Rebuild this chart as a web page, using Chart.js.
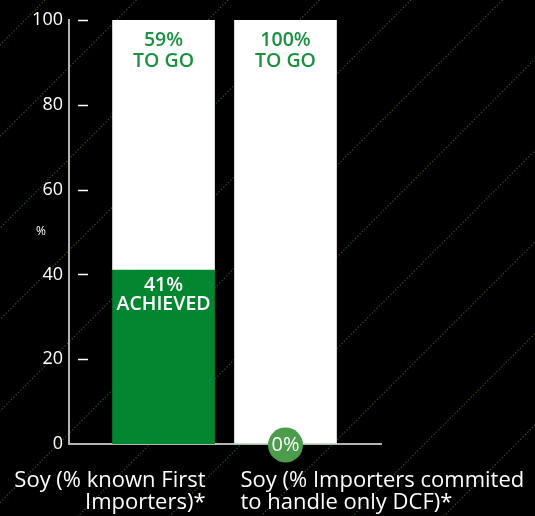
<!DOCTYPE html>
<html>
<head>
<meta charset="utf-8">
<script src="https://cdn.jsdelivr.net/npm/chart.js@4.4.1/dist/chart.umd.min.js"></script>
<style>
  html, body { margin: 0; padding: 0; background: #000; }
  #wrap { width: 535px; height: 516px; position: relative; }
</style>
</head>
<body>
<div id="wrap"><canvas id="c" width="535" height="516"></canvas></div>
<script>
// Soy commitments: share achieved vs. remaining, in percent
const categories = [
  ['Soy (% known First', 'Importers)*'],
  ['Soy (% Importers commited', 'to handle only DCF)*']
];
const achieved = [41, 0];
const toGo = [59, 100];
const yTicks = [0, 20, 40, 60, 80, 100];

const GREEN = '#02862f';
const TEXT_GREEN = '#1b9140';
const FONT = '"Open Sans", "Noto Sans", sans-serif';

// Black backdrop with faint dotted diagonals
const backdrop = {
  id: 'backdrop',
  beforeDraw(chart) {
    const ctx = chart.ctx;
    const w = chart.width, h = chart.height;
    ctx.save();
    ctx.fillStyle = '#000';
    ctx.fillRect(0, 0, w, h);
    ctx.strokeStyle = 'rgba(85,140,40,0.6)';
    ctx.lineWidth = 1.2;
    ctx.setLineDash([1.3, 2]);
    for (let c = 45; c < w + h + 100; c += 91.5) {
      ctx.beginPath();
      ctx.moveTo(c, 0);
      ctx.lineTo(c - h - 10, h + 10);
      ctx.stroke();
    }
    ctx.restore();
  }
};

// Detached tick marks, axis unit, segment captions, zero badge and category labels
const decorations = {
  id: 'decorations',
  afterDatasetsDraw(chart) {
    const ctx = chart.ctx;
    const x = chart.scales.x, y = chart.scales.y;
    ctx.save();

    // tick marks just right of the value axis
    ctx.strokeStyle = '#ffffff';
    ctx.lineWidth = 1.5;
    yTicks.slice(1).forEach(v => {
      const py = Math.round(y.getPixelForValue(v)) + 0.5;
      ctx.beginPath();
      ctx.moveTo(x.left + 9, py);
      ctx.lineTo(x.left + 19, py);
      ctx.stroke();
    });

    // unit label
    ctx.fillStyle = '#ffffff';
    ctx.font = '12px ' + FONT;
    ctx.textAlign = 'center';
    ctx.textBaseline = 'middle';
    ctx.fillText('%', 41, y.getPixelForValue(50));

    // captions inside the segments
    const capFont = '600 19.5px ' + FONT;
    ctx.textAlign = 'center';
    ctx.textBaseline = 'middle';
    ctx.font = capFont;
    categories.forEach((_, i) => {
      const cx = x.getPixelForValue(i);
      const a = achieved[i], t = toGo[i];
      if (t > 0) {
        const top = y.getPixelForValue(a + t);
        ctx.fillStyle = TEXT_GREEN;
        ctx.fillText(t + '%', cx, top + 20);
        ctx.fillText('TO GO', cx, top + 41);
      }
      if (a > 0) {
        const top = y.getPixelForValue(a);
        ctx.fillStyle = '#ffffff';
        ctx.fillText(a + '%', cx, top + 15);
        ctx.fillText('ACHIEVED', cx, top + 34);
      } else {
        const by = y.getPixelForValue(0);
        ctx.fillStyle = '#4b9c4b';
        ctx.beginPath();
        ctx.arc(cx, by + 1, 17.5, 0, Math.PI * 2);
        ctx.fill();
        ctx.fillStyle = '#ffffff';
        ctx.font = '20px ' + FONT;
        ctx.fillText(a + '%', cx, by + 1);
        ctx.font = capFont;
      }
    });

    // category labels under the baseline
    ctx.fillStyle = '#ffffff';
    ctx.font = '22px ' + FONT;
    ctx.textBaseline = 'alphabetic';
    categories.forEach((lines, i) => {
      const cx = x.getPixelForValue(i);
      const first = i === 0;
      ctx.textAlign = first ? 'right' : 'left';
      const lx = first ? cx + 42 : cx - 45;
      lines.forEach((ln, j) => ctx.fillText(ln, lx, 487 + j * 22));
    });
    ctx.restore();
  }
};

const toPoints = arr => arr.map((v, i) => ({ x: i, y: v }));

new Chart(document.getElementById('c'), {
  type: 'bar',
  data: {
    datasets: [
      { label: 'Achieved', data: toPoints(achieved), backgroundColor: GREEN, borderWidth: 0, barThickness: 102 },
      { label: 'To go', data: toPoints(toGo), backgroundColor: '#ffffff', borderWidth: 0, barThickness: 102 }
    ]
  },
  options: {
    responsive: false,
    animation: false,
    layout: { padding: { top: 20, bottom: 72, left: 0, right: 154 } },
    plugins: { legend: { display: false }, tooltip: { enabled: false } },
    scales: {
      x: {
        type: 'linear',
        stacked: true,
        offset: false,
        min: -0.775,
        max: 1.783,
        ticks: { display: false },
        grid: { display: false, drawTicks: false, offset: false },
        border: { display: true, color: '#b4b4b4', width: 2 }
      },
      y: {
        stacked: true,
        min: 0,
        max: 100,
        afterBuildTicks(scale) { scale.ticks = yTicks.map(v => ({ value: v })); },
        afterFit(scale) { scale.width = 69; },
        ticks: { color: '#ffffff', padding: 6, font: { family: FONT, size: 18 } },
        grid: { display: false, drawTicks: false },
        border: { display: true, color: '#b4b4b4', width: 2 }
      }
    }
  },
  plugins: [backdrop, decorations]
});
</script>
</body>
</html>
